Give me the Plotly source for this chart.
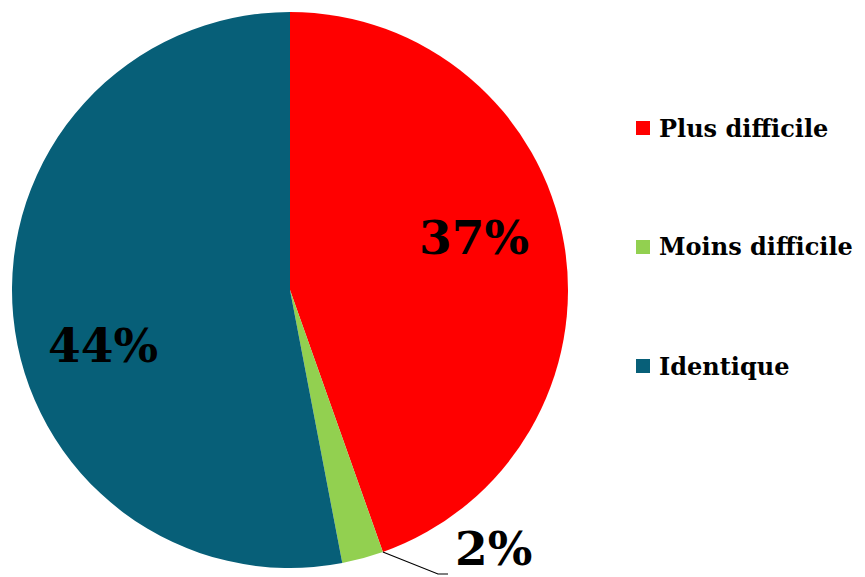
import math
import plotly.graph_objects as go

labels = ["Plus difficile", "Moins difficile", "Identique"]
values = [37, 2, 44]
colors = ["#FF0000", "#92D050", "#075F78"]

W, H = 865, 577
cx, cy, R = 290, 290, 278
FONT = "DejaVu Serif"

fig = go.Figure()
fig.add_trace(go.Pie(
    labels=labels, values=values, sort=False, direction="clockwise", rotation=0,
    marker=dict(colors=colors, line=dict(width=0)),
    textinfo="none", showlegend=False, hoverinfo="label+value",
    domain=dict(x=[(cx - R) / W, (cx + R) / W], y=[1 - (cy + R) / H, 1 - (cy - R) / H]),
))

# data label positions (pixel centres, as laid out in the original)
label_xy = [(474, 237), (493, 548), (103, 345)]

total = sum(values)
ang = math.radians(values[0] / total * 360)
ex, ey = cx + R * math.sin(ang), cy - R * math.cos(ang)
shapes = [dict(type="path", xref="paper", yref="paper",
               path=f"M {ex/W} {1-ey/H} L {438/W} {1-574/H} L {448/W} {1-574/H}",
               line=dict(color="black", width=1.2))]
annotations = []
for v, (lx, ly) in zip(values, label_xy):
    annotations.append(dict(x=lx / W, y=1 - ly / H, xref="paper", yref="paper",
                            text=f"<b>{v}%</b>", showarrow=False,
                            xanchor="center", yanchor="middle",
                            font=dict(family=FONT, size=47, color="black")))

# legend
legend_y = [128, 247, 366]
for lab, col, ly in zip(labels, colors, legend_y):
    shapes.append(dict(type="rect", xref="paper", yref="paper",
                       x0=636 / W, x1=650 / W, y0=1 - (ly + 7) / H, y1=1 - (ly - 7) / H,
                       fillcolor=col, line=dict(width=0)))
    annotations.append(dict(x=657 / W, y=1 - ly / H, xref="paper", yref="paper",
                            text=f"<b>{lab}</b>", showarrow=False, xanchor="left",
                            yanchor="middle",
                            font=dict(family=FONT, size=24, color="black")))

fig.update_layout(width=W, height=H, margin=dict(l=0, r=0, t=0, b=0),
                  paper_bgcolor="white", plot_bgcolor="white",
                  shapes=shapes, annotations=annotations)
fig.write_html("out.html", config={"displayModeBar": False},
               post_script="document.body.style.margin='0';")
